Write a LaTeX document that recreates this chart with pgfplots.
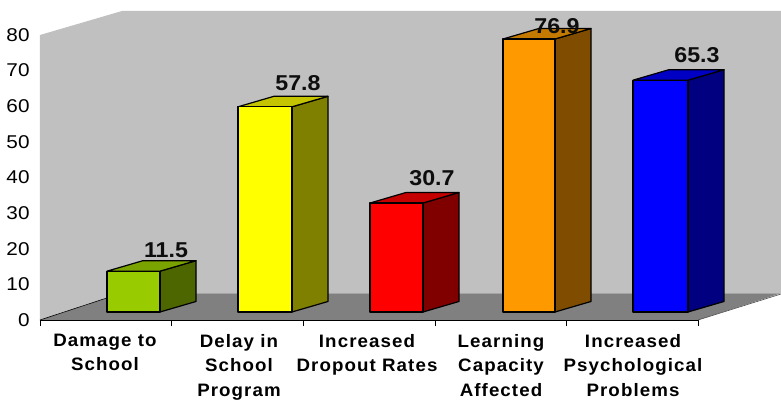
\documentclass[border=0pt]{standalone}
\usepackage{pgfplots}
\pgfplotsset{compat=1.18}
\usepackage{fontspec}
\setmainfont{Liberation Sans}
\newfontfamily\tickf[FakeStretch=1.12]{Liberation Sans}
\newfontfamily\labf[LetterSpace=6,FakeStretch=1.04]{Liberation Sans Bold}
\newfontfamily\valf[FakeStretch=1.08]{Liberation Sans Bold}
\definecolor{wallc}{HTML}{C0C0C0}
\definecolor{floorc}{HTML}{808080}
\definecolor{gf}{HTML}{99CC00}\definecolor{gs}{HTML}{4D6600}\definecolor{gt}{HTML}{7AA300}
\definecolor{yf}{HTML}{FFFF00}\definecolor{ys}{HTML}{808000}\definecolor{yt}{HTML}{C4C400}
\definecolor{rf}{HTML}{FF0000}\definecolor{rs}{HTML}{800000}\definecolor{rt}{HTML}{C40000}
\definecolor{of}{HTML}{FF9900}\definecolor{os}{HTML}{804D00}\definecolor{ot}{HTML}{C47A00}
\definecolor{bf}{HTML}{0000FF}\definecolor{bs}{HTML}{000080}\definecolor{bt}{HTML}{0000C4}
% bar3d{x left}{x right}{value}{front}{side}{top}
\newcommand\barthree[6]{%
 \addplot[fill=#5,draw=black,line width=1.2pt,line join=round] coordinates {(#2,2.25) (#2+36,5.2) (#2+36,{#3*0.9965+5.2}) (#2,{#3*0.9965+2.25})} -- cycle;
 \addplot[fill=#6,draw=black,line width=1.2pt,line join=round] coordinates {(#1,{#3*0.9965+2.25}) (#1+36,{#3*0.9965+5.2}) (#2+36,{#3*0.9965+5.2}) (#2,{#3*0.9965+2.25})} -- cycle;
 \addplot[fill=#4,draw=black,line width=1.2pt,line join=round] coordinates {(#1,2.25) (#2,2.25) (#2,{#3*0.9965+2.25}) (#1,{#3*0.9965+2.25})} -- cycle;
}
\begin{document}
\begin{tikzpicture}
\path[use as bounding box] (0,0) rectangle (781pt,400pt);
\begin{axis}[
 at={(40pt,80pt)}, anchor=south west,
 scale only axis, width=658pt, height=285pt,
 xmin=40, xmax=698, ymin=0, ymax=80,
 clip=false,
 axis x line*=bottom, axis y line*=left,
 x axis line style={-,black,line width=0.8pt},
 y axis line style={draw=none},
 ytick={0,10,...,80},
 ytick style={draw=none},
 xtick={105,239,367,501,633},
 xticklabels={{Damage to\\School},{Delay in\\School\\Program},{Increased\\Dropout Rates},{Learning\\Capacity\\Affected},{Increased\\Psychological\\Problems}},
 tick align=outside,
 major x tick style={draw=none},
 extra x ticks={40,171,303,435,566,698},
 extra x tick labels={},
 extra x tick style={major tick length=5.6pt,major x tick style={draw=black,line width=0.6pt},tick align=outside},
 xticklabel style={font=\labf\fontsize{18}{24.5}\selectfont,align=center,anchor=north,inner sep=0pt,yshift=-9.5pt},
 yticklabel style={font=\tickf\fontsize{18.5}{20}\selectfont,anchor=east,inner sep=0pt,xshift=-6pt},
 /pgf/number format/assume math mode=true,
]
\addplot[fill=wallc,draw=none] coordinates {(40,0) (40,80) (122,86.74) (781,86.74) (781,7.5) (122,7.5)} -- cycle;
\addplot[fill=floorc,draw=none] coordinates {(40,0) (122,7.5) (781,7.5) (698,0)} -- cycle;
\addplot[black,line width=0.6pt] coordinates {(40,0) (107,6.2)};
\addplot[black!70,line width=0.6pt] coordinates {(698,0) (781,7.3)};
\addplot[black,line width=0.8pt] coordinates {(40,0) (698,0)};
\barthree{107}{160}{11.5}{gf}{gs}{gt}
\barthree{238}{292}{57.8}{yf}{ys}{yt}
\barthree{370}{423}{30.7}{rf}{rs}{rt}
\barthree{503}{555}{76.9}{of}{os}{ot}
\barthree{633}{688}{65.3}{bf}{bs}{bt}
\begin{scope}[every node/.style={font=\valf\fontsize{21.5}{24}\selectfont,inner sep=0pt,text=black!95}]
\node at (axis cs:166,19.7) {11.5};
\node at (axis cs:298,66.5) {57.8};
\node at (axis cs:432,39.8) {30.7};
\node at (axis cs:557,82.6) {76.9};
\node at (axis cs:697,74.4) {65.3};
\end{scope}
\end{axis}
\end{tikzpicture}
\end{document}
